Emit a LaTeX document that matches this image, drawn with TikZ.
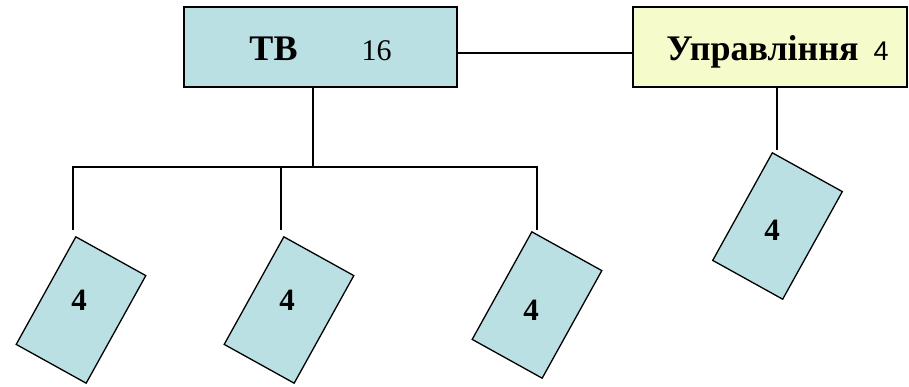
\documentclass[tikz,border=0pt]{standalone}
\usepackage{fontspec}
\setmainfont{Liberation Serif}
\newfontfamily\numsans{Liberation Sans}
\usetikzlibrary{calc}
\definecolor{cardcyan}{RGB}{187,224,227}
\definecolor{boxyellow}{RGB}{245,251,203}
\tikzset{
  topbox/.style={draw=black, line width=2pt, minimum width=273pt, minimum height=80pt, inner sep=0pt, text height=27pt, text depth=0pt},
  card/.style={draw=black, line width=1.3pt, fill=cardcyan, minimum width=80pt, minimum height=123pt, inner sep=0pt, rotate=-29},
  cardlabel/.style={font=\fontsize{31}{34}\selectfont\bfseries, inner sep=0pt},
  conn/.style={draw=black, line width=1.8pt}
}
\begin{document}
\begin{tikzpicture}[x=1pt,y=1pt]
\useasboundingbox (0,0) rectangle (909,386);
% top boxes
\node[topbox, fill=cardcyan] (tb) at (320.5,339)
  {\fontsize{36}{40}\selectfont\textbf{ТВ}\hspace*{64pt}{\fontsize{30}{32}\selectfont 16}};
\node[topbox, fill=boxyellow, minimum width=274pt] (up) at (770,339)
  {\hspace*{15pt}\fontsize{36}{40}\selectfont\textbf{Управління}\hspace*{15pt}{\numsans\fontsize{27}{32}\selectfont 4}};
% cards
\node[card] (c1) at (81,76) {};
\node[card] (c2) at (289,76) {};
\node[card] (c3) at (537,81) {};
\node[card] (c4) at (777.5,160) {};
\node[cardlabel] (l1) at (79,86) {4};
\node[cardlabel] (l2) at (287,86) {4};
\node[cardlabel] (l3) at (531,76) {4};
\node[cardlabel] (l4) at (772,156) {4};
% connector points
\coordinate (tbs) at (313,299);
\coordinate (bm) at (313,219);
\coordinate (b1) at (73,219);
\coordinate (b2) at (281,219);
\coordinate (b3) at (537,219);
\coordinate (t1) at (73,156);
\coordinate (t2) at (281,156);
\coordinate (t3) at (537,156);
\coordinate (ups) at (777,299);
\coordinate (t4) at (777,236);
% connectors
\draw[conn] ($(tb.east)+(0,-6)$) -- ($(up.west)+(0,-6)$);
\draw[conn] (tbs) -- (bm);
\draw[conn] (t1) -- (b1) -- (b3) -- (t3);
\draw[conn] (b2) -- (t2);
\draw[conn] (ups) -- (t4);
\end{tikzpicture}
\end{document}
